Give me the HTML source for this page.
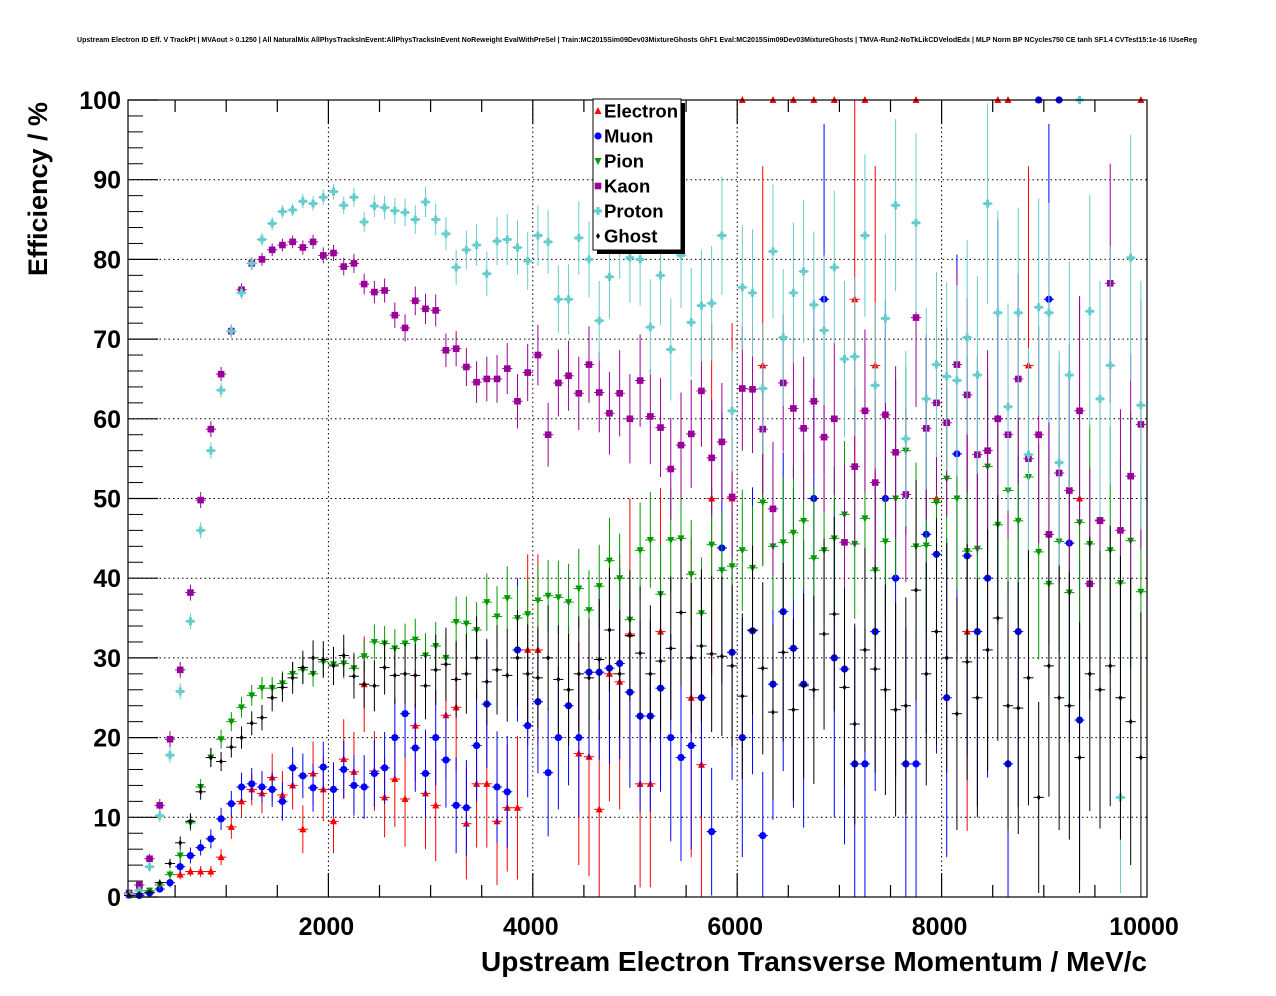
<!DOCTYPE html>
<html><head><meta charset="utf-8">
<style>
html,body{margin:0;padding:0;background:#fff;}
svg{display:block;font-family:"Liberation Sans",sans-serif;}
</style></head>
<body>
<svg id="chart" width="1276" height="996" viewBox="0 0 1276 996">
<rect width="1276" height="996" fill="#fff"/>
<text x="637" y="42" font-size="7" font-weight="bold" text-anchor="middle" textLength="1120" lengthAdjust="spacingAndGlyphs">Upstream Electron ID Eff. V TrackPt | MVAout &gt; 0.1250 | All NaturalMix AllPhysTracksInEvent:AllPhysTracksInEvent NoReweight EvalWithPreSel | Train:MC2015Sim09Dev03MixtureGhosts GhF1 Eval:MC2015Sim09Dev03MixtureGhosts | TMVA-Run2-NoTkLikCDVelodEdx | MLP Norm BP NCycles750 CE tanh SF1.4 CVTest15:1e-16 !UseReg</text>
<g id="grid"></g>
<g id="axes"></g>
<g id="marks"></g>
<rect x="128" y="100" width="1019" height="797" fill="none" stroke="#000" stroke-width="1.2"/>
<text transform="translate(47,189) rotate(-90)" font-size="27" font-weight="bold" text-anchor="middle">Efficiency / %</text>
<text x="1147" y="971" font-size="27.5" font-weight="bold" text-anchor="end" textLength="666" lengthAdjust="spacingAndGlyphs">Upstream Electron Transverse Momentum / MeV/c</text>
<g>
<rect x="597" y="103" width="88" height="151" fill="#000"/>
<rect x="593" y="99" width="88" height="151" fill="#fff" stroke="#000" stroke-width="1"/>
<g id="legend-items"></g>
</g>
</svg>
<script>
const categories = [];
for (let i = 0; i < 100; i++) categories.push(i * 100 + 50);
const xTicks = [2000, 4000, 6000, 8000, 10000];
const yTicks = [0, 10, 20, 30, 40, 50, 60, 70, 80, 90, 100];
const seriesNames = ["Electron", "Muon", "Pion", "Kaon", "Proton", "Ghost"];
const N = null;
const electron = [N,N,N,N,N,2.8,3.2,3.2,3.2,5,8.8,12,13.5,13,15,12.8,14,8.5,15.5,13.5,9.5,17.3,15.7,26.7,15.8,12.5,14.8,12.3,21.5,13,11.5,22.8,23.8,9.2,14.2,14.2,9.5,11.2,11.2,31,31,N,N,N,18,17.6,11,28,27,33,14.2,14.2,33.3,N,N,25,16.6,50,N,50,100,N,66.7,100,N,100,N,100,N,100,N,75,100,66.7,N,N,N,100,N,50,N,N,33.3,N,N,100,100,N,66.7,100,N,N,N,50,N,N,N,N,N,100];
const electronErr = [0,0,0,0,0,0.6,0.6,0.7,0.7,1,1.5,2,2,2.5,3,3,3,3,4,4,4,5,5,6,5,5,6,6,7,7,7,8,8,7,8,8,8,8,9,12,12,0,0,0,14,15,12,16,16,17,13,13,18,0,0,20,18,22,0,22,0,0,25,0,0,0,0,0,0,0,0,25,0,25,0,0,0,0,0,25,0,0,25,0,0,0,0,0,25,0,0,0,0,25,0,0,0,0,0,0];
const muon = [0.2,0.2,0.5,1,1.8,3.8,5.2,6.2,7.3,9.8,11.7,13.8,14.2,13.8,13.5,12,16.2,15.2,13.7,16.3,13.5,16,14,13.8,15.5,16.2,20,23,18.7,15.5,20,17.2,11.5,11.2,19,24.2,13.8,13.2,31,21.5,24.5,15.6,20,24,20,28.2,28.2,28.7,29.3,25.7,22.7,22.7,26.2,20,17.5,19,25,8.2,43.8,30.7,20,33.4,7.7,26.7,35.8,31.2,26.7,50,75,30,28.6,16.7,16.7,33.3,50,40,16.7,16.7,45.5,43,25,55.6,42.8,33.3,40,60,16.7,33.3,N,100,75,100,44.4,22.2,N,N,N,N,N,N];
const muonErr = [0.1,0.2,0.3,0.4,0.6,0.8,1,1,1.2,1.4,1.6,1.8,2,2,2.2,2.4,2.6,2.8,3,3.2,3.4,3.6,3.8,4,4.2,4.5,5,5.5,5.5,5.5,6,6,6,6,7,8,7,7,9,9,9,8,9,10,10,11,11,12,12,12,12,12,13,13,13,13,15,8,17,16,15,18,8,17,20,20,18,25,22,20,22,17,17,20,25,25,17,17,25,25,20,25,25,22,25,25,17,22,0,0,22,0,25,20,0,0,0,0,0,0];
const pion = [0.3,0.8,0.8,1.5,2.8,5.2,9.3,13.8,17.5,19.8,22,23.8,25.3,26.2,26.2,26.8,28,28.5,28,29.5,29.2,29.3,28.7,30.2,32,31.8,31.2,31.8,32.3,30.3,31.5,30,34.5,34.3,33.5,37,35.2,37.5,35,35.5,37.2,37.8,37.6,37,38.7,36,39,42.2,40,34.8,43.5,44.8,38,44.8,45,40.5,35.6,44.2,41,41.5,43.5,41.3,49.5,44,44.5,45.7,47.2,42.5,43.5,45,48,44.3,47.5,41,44.6,50,56,44,44.1,49.5,52.5,50,43.4,43.7,54,46.7,51,47.2,52.7,43.3,39.3,44.6,38.2,47,44.3,47.3,43.5,39.4,44.7,38.3];
const pionErr = [0.2,0.3,0.4,0.5,0.6,0.8,1,1,1.2,1.2,1.2,1.3,1.3,1.4,1.4,1.5,1.5,1.6,1.6,1.7,1.8,1.9,2,2,2.2,2.2,2.4,2.5,2.6,2.8,3,3,3.2,3.4,3.5,3.6,3.8,4,4,4.2,4.4,4.5,4.6,4.8,5,5,5.2,5.4,5.6,5.8,6,6,6.2,6.4,6.6,6.8,7,7,7.2,7.4,7.6,7.8,8,8,8.2,8.4,8.6,8.8,9,9,9.2,9.4,9.6,9.8,10,10,10.5,10.5,11,11,11.5,11.5,12,12,12.5,12.5,13,13,13.5,13.5,14,14,14.5,14.5,15,15,15.5,15.5,16,16];
const kaon = [0.5,1.5,4.8,11.5,19.8,28.5,38.2,49.8,58.7,65.6,71,76.2,79.5,80,81.2,81.8,82.2,81.5,82.2,80.5,80.8,79.1,79.5,76.9,75.9,76.1,73,71.4,74.8,73.8,73.6,68.6,68.8,66.5,64.6,65,65,66.3,62.2,65.8,68,58,64.5,65.4,63.2,66.8,63.3,60.7,63.2,60,64.8,60.3,58.9,53.7,56.7,58.1,63.5,55.1,57.1,50.2,63.8,63.7,58.7,48.7,64.5,61.3,58.8,62.2,57.7,60,44.5,54,61,52,60.5,55.8,50.5,72.7,58.8,62,59.5,66.8,63,55.5,56,60,58,65,55,58,45.5,53.2,51,61,39.3,47.2,77,46,52.8,59.3];
const kaonErr = [0.2,0.4,0.6,0.8,1,1,1,1,1,0.9,0.8,0.8,0.8,0.8,0.8,0.8,0.8,0.9,0.9,1,1,1.1,1.2,1.3,1.4,1.5,1.6,1.7,1.8,1.9,2,2.1,2.2,2.4,2.6,2.8,3,3.2,3.4,3.6,3.8,4,4.2,4.4,4.6,4.8,5,5.2,5.4,5.6,5.8,6,6.2,6.4,6.6,6.8,7,7.2,7.4,7.6,7.8,8,8.2,8.4,8.6,8.8,9,9.2,9.4,9.6,9.8,10,10.2,10.4,10.6,10.8,11,11.2,11.4,11.6,11.8,12,12.2,12.4,12.6,12.8,13,13.2,13.4,13.6,13.8,14,14.2,14.4,14.6,14.8,15,15.2,15.4,15.6];
const proton = [0.3,0.8,3.8,10.2,17.8,25.8,34.6,46,56,63.6,71,75.8,79.5,82.5,84.5,86,86.2,87.3,87,87.8,88.5,86.8,87.8,84.7,86.7,86.5,86.1,85.9,85,87.2,85,83.2,79,81.2,81.8,78.2,82.3,82.5,81.5,79.8,83,82.2,75,75,82.7,80,72.3,77.8,83,80.2,80,71.5,78,68.7,80.5,72.1,74.2,74.5,83,61,76.5,75.8,63.8,81,70.2,75.8,78.5,74.3,71.1,79,67.5,67.8,83,64.2,72.6,86.8,57.5,84.6,62.5,66.8,65.3,64.8,70.2,65.5,87,73.3,61.5,73.3,55.5,74,73.3,54.5,65.5,100,73.5,62.5,66.7,12.5,80.2,61.7];
const protonErr = [0.2,0.4,0.6,0.8,1,1,1,1,1,0.9,0.8,0.8,0.8,0.8,0.8,0.8,0.8,0.9,0.9,1,1,1.1,1.2,1.3,1.4,1.5,1.6,1.7,1.8,1.9,2,2.1,2.2,2.4,2.6,2.8,3,3.2,3.4,3.6,3.8,4,4.2,4.4,4.6,4.8,5,5.2,5.4,5.6,5.8,6,6.2,6.4,6.6,6.8,7,7.2,7.4,7.6,7.8,8,8.2,8.4,8.6,8.8,9,9.2,9.4,9.6,9.8,10,10.2,10.4,10.6,10.8,11,11.2,11.4,11.6,11.8,12,12.2,12.4,12.6,12.8,13,13.2,13.4,13.6,13.8,14,14.2,0,14.6,14.8,15,12,15.4,15.6];
const ghost = [0.2,0.4,0.6,1.8,4.2,6.8,9.5,13.2,17.5,17,18.8,20,21.8,22.5,25,26.3,27.5,28.8,30,29.8,29,30.3,27.7,26.7,26.5,28.8,27.8,28,27.8,26.5,28.5,29.2,27.3,28,30,27,28.5,27.8,30,28,27.5,30,27.3,26,28,27.5,29.8,33.5,28,32.8,30.6,28,29.6,31.2,35.7,30,31.5,30.5,30.2,29,25.2,33.5,28.7,23.2,30.7,23.5,26.5,26,33,35.5,26.3,21.7,31,28.6,26,23.5,24,38.5,28,33.3,30,23,29.5,25,31,35,24,23.7,27.5,12.5,29,25,24,17.5,28,26,29,25,22,17.5];
const ghostErr = [0.1,0.2,0.3,0.4,0.6,0.8,1,1,1.2,1.2,1.3,1.4,1.5,1.6,1.7,1.8,2,2.1,2.2,2.3,2.4,2.6,2.8,3,3.2,3.4,3.6,3.8,4,4.2,4.4,4.6,4.8,5,5.2,5.4,5.6,5.8,6,6.2,6.4,6.6,6.8,7,7.2,7.4,7.6,7.8,8,8.2,8.4,8.6,8.8,9,9.2,9.4,9.6,9.8,10,10.2,10.4,10.6,10.8,11,11.2,11.4,11.6,11.8,12,12.2,12.4,12.6,12.8,13,13.2,13.4,13.6,13.8,14,14.2,14.4,14.6,14.8,15,15.2,15.4,15.6,15.8,16,12,16.4,16.6,16.8,17,17.2,17.4,17.6,17.8,18,18.2];

const NS = "http://www.w3.org/2000/svg";
const X0 = 124, XS = 0.1022, Y0 = 897, YS = 7.97;
const xScale = v => X0 + v * XS;
const yScale = v => Y0 - v * YS;
function mk(tag, attrs, parent) {
  const e = document.createElementNS(NS, tag);
  for (const k in attrs) e.setAttribute(k, attrs[k]);
  parent.appendChild(e);
  return e;
}
const grid = document.getElementById("grid");
const axes = document.getElementById("axes");
const marks = document.getElementById("marks");

yTicks.forEach(t => {
  const y = yScale(t);
  if (t > 0 && t < 100) {
    const g = mk("line", {x1:128, x2:1147, y1:y, y2:y, stroke:"#000", "stroke-width":1, "stroke-dasharray":"1.5,3"}, grid);
    
    
  }
  const tk = mk("line", {x1:128, x2:158, y1:y, y2:y, stroke:"#000", "stroke-width":1.2}, axes);
  
  
  const lb = mk("text", {x:121, y:y + 9, "font-size":25, "font-weight":"bold", "text-anchor":"end"}, axes);
  lb.textContent = String(t);
  
  
});
for (let v = 2; v < 100; v += 2) {
  if (v % 10 === 0) continue;
  const y = yScale(v);
  const m = mk("line", {x1:128, x2:143, y1:y, y2:y, stroke:"#000", "stroke-width":1}, axes);
  
  
}
for (let v = 500; v < 10000; v += 500) {
  const x = xScale(v);
  const len = v % 2000 === 0 ? 24 : 12;
  const a = mk("line", {x1:x, x2:x, y1:897, y2:897 - len, stroke:"#000", "stroke-width":1.2}, axes);
  
  
  const b = mk("line", {x1:x, x2:x, y1:100, y2:100 + len, stroke:"#000", "stroke-width":1.2}, axes);
  
  
}
xTicks.forEach(t => {
  const x = xScale(t);
  if (t < 10000) {
    const g = mk("line", {x1:x, x2:x, y1:100, y2:897, stroke:"#000", "stroke-width":1, "stroke-dasharray":"1.5,3"}, grid);
    
    
  }
  const lb = mk("text", {x:x - 2, y:935, "font-size":25, "font-weight":"bold", "text-anchor":"middle"}, axes);
  lb.textContent = String(t);
  
  
});

function marker(type, x, y, color, parent) {
  let e;
  if (type === "tri-up") e = mk("polygon", {points:`${x},${y-4} ${x-3.5},${y+3} ${x+3.5},${y+3}`, fill:color}, parent);
  else if (type === "circle") e = mk("circle", {cx:x, cy:y, r:3.6, fill:color}, parent);
  else if (type === "tri-down") e = mk("polygon", {points:`${x},${y+4} ${x-3.5},${y-3} ${x+3.5},${y-3}`, fill:color}, parent);
  else if (type === "square") e = mk("rect", {x:x-3.3, y:y-3.3, width:6.6, height:6.6, fill:color}, parent);
  else if (type === "plus") e = mk("path", {d:`M${x-4},${y-1.5}h8v3h-8z M${x-1.5},${y-4}h3v8h-3z`, fill:color}, parent);
  else e = mk("polygon", {points:`${x},${y-3} ${x+2},${y} ${x},${y+3} ${x-2},${y}`, fill:color}, parent);
  return e;
}
const seriesDefs = [
  {name:"electron", vals:electron, errs:electronErr, color:"#ff0000", m:"tri-up"},
  {name:"muon", vals:muon, errs:muonErr, color:"#0000ff", m:"circle"},
  {name:"pion", vals:pion, errs:pionErr, color:"#009900", m:"tri-down"},
  {name:"kaon", vals:kaon, errs:kaonErr, color:"#990099", m:"square"},
  {name:"proton", vals:proton, errs:protonErr, color:"#66cccc", m:"plus"},
  {name:"ghost", vals:ghost, errs:ghostErr, color:"#000000", m:"diamond"}
];
seriesDefs.forEach(s => {
  const g = mk("g", {}, marks);
  
  
  s.vals.forEach((v, i) => {
    if (v === null) return;
    const cx = xScale(categories[i]);
    const cy = yScale(v);
    const e = s.errs[i] || 0;
    const hx = 50 * XS;
    const p = mk("g", {}, g);
    
    
    mk("line", {x1:cx - hx, x2:cx + hx, y1:cy, y2:cy, stroke:s.color, "stroke-width":1}, p);
    if (e > 0) mk("line", {x1:cx, x2:cx, y1:Math.max(100, yScale(v + e)), y2:Math.min(897, yScale(v - e)), stroke:s.color, "stroke-width":1}, p);
    marker(s.m, cx, cy, s.color, p);
  });
});
const li = document.getElementById("legend-items");
seriesDefs.forEach((s, k) => {
  const y = 111 + k * 25;
  const g = mk("g", {}, li);
  
  
  marker(s.m, 598, y, s.color, g);
  const t = mk("text", {x:604, y:y + 6.5, "font-size":18.5, "font-weight":"bold"}, g);
  t.textContent = seriesNames[k];
});
</script>
</body></html>
